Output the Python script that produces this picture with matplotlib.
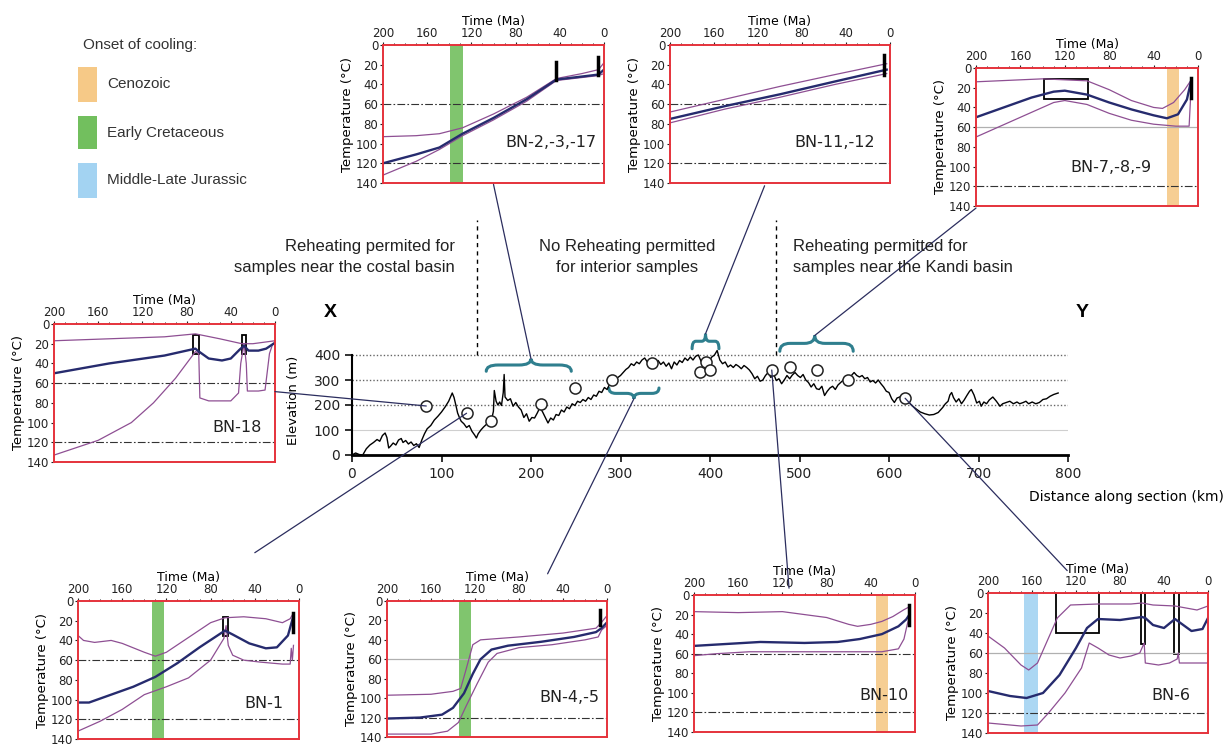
import matplotlib.pyplot as plt
from matplotlib.patches import Rectangle, ConnectionPatch, PathPatch
from matplotlib.path import Path

# ---- elevation profile along X-Y (km, m) ----
dist_km = [0, 4, 8, 12, 16, 20, 24, 28, 31, 34, 37, 39, 41, 43, 46, 49, 52, 55, 57, 60, 63, 66, 69, 72, 75,
           78, 81, 84, 88, 92, 96, 100, 104, 108, 112, 114, 116, 118, 120, 122, 125, 128, 131, 134, 137, 139,
           141, 144, 147, 150, 153, 156, 158, 159, 161, 163, 165, 167, 169, 170, 171, 174, 177, 180, 183, 186,
           189, 192, 195, 198, 201, 204, 207, 210, 213, 216, 219, 222, 225, 228, 231, 234, 237, 240, 243, 246,
           249, 252, 255, 258, 261, 264, 267, 270, 273, 276, 279, 282, 285, 288, 291, 294, 297, 300, 303, 306,
           309, 312, 315, 318, 321, 324, 327, 330, 333, 336, 339, 342, 345, 348, 351, 354, 357, 360, 363, 366,
           369, 372, 375, 378, 381, 384, 387, 390, 393, 396, 399, 402, 405, 408, 411, 414, 417, 420, 423, 426,
           429, 432, 435, 438, 441, 444, 447, 450, 453, 456, 459, 462, 465, 468, 471, 474, 477, 480, 483, 486,
           489, 492, 495, 498, 501, 504, 507, 510, 513, 516, 519, 522, 525, 528, 531, 534, 537, 540, 543, 546,
           549, 552, 555, 558, 561, 564, 567, 570, 573, 576, 579, 582, 585, 588, 591, 594, 597, 600, 603, 606,
           609, 612, 615, 618, 621, 625, 630, 635, 640, 645, 650, 655, 660, 663, 666, 668, 670, 672, 675, 678,
           681, 684, 687, 690, 692, 695, 698, 701, 703, 706, 709, 712, 716, 720, 724, 727, 731, 735, 739, 743,
           746, 750, 753, 756, 760, 764, 768, 772, 776, 780, 784, 789]
elev_m = [0, 8, 2, 0, 25, 40, 50, 62, 55, 78, 88, 70, 28, 35, 48, 40, 60, 66, 50, 58, 44, 52, 38, 45, 30,
          60, 85, 105, 118, 140, 155, 172, 192, 215, 248, 230, 200, 168, 150, 135, 125, 110, 118, 95, 80, 68,
          85, 100, 112, 122, 130, 142, 175, 258, 215, 200, 212, 198, 250, 322, 232, 218, 225, 195, 210, 192,
          180, 150, 165, 135, 150, 148, 168, 190, 172, 150, 128, 148, 140, 162, 158, 180, 172, 192, 185, 205,
          198, 215, 210, 222, 215, 230, 222, 240, 235, 255, 250, 270, 262, 285, 290, 300, 310, 318, 330, 342,
          350, 365, 358, 372, 365, 380, 388, 372, 382, 370, 365, 378, 362, 372, 355, 368, 345, 372, 360, 378,
          370, 388, 378, 392, 380, 395, 400, 375, 360, 385, 375, 392, 400, 418, 380, 365, 372, 352, 360, 350,
          362, 355, 345, 358, 350, 340, 325, 305, 315, 295, 300, 318, 330, 310, 325, 298, 305, 285, 300, 318,
          305, 320, 330, 318, 310, 322, 300, 290, 272, 285, 265, 262, 275, 238, 255, 268, 275, 262, 280, 290,
          300, 312, 305, 318, 330, 318, 312, 318, 305, 310, 292, 298, 288, 300, 285, 272, 255, 250, 225, 210,
          228, 232, 240, 222, 215, 200, 185, 172, 165, 160, 162, 170, 190, 205, 215, 240, 250, 230, 212, 225,
          205, 220, 238, 255, 262, 240, 208, 215, 195, 212, 205, 220, 232, 215, 195, 205, 210, 215, 205, 212,
          205, 210, 215, 205, 212, 205, 210, 222, 225, 235, 242, 248]

# sample locations on the profile
sample_km = [83, 128, 155, 211, 249, 290, 335, 389, 396, 400, 469, 489, 519, 554, 618]
sample_elev = [196, 167, 137, 204, 267, 300, 367, 332, 372, 340, 340, 351, 340, 300, 227]

# ---- thermal histories: (age Ma, temperature C) ----
bn2_upper = [(200, 93), (170, 92), (149, 90), (128, 84), (100, 70), (70, 53), (43, 34), (20, 29), (5, 25), (0, 18)]
bn2_mid = [(200, 120), (170, 111), (149, 104), (128, 90), (100, 74), (70, 55), (43, 35), (20, 32), (5, 30), (0, 25)]
bn2_lower = [(200, 132), (170, 118), (149, 106), (128, 92), (100, 76), (70, 57), (43, 36), (20, 33), (5, 31), (0, 29)]

bn11_upper = [(200, 68), (150, 55), (100, 42), (50, 30), (3, 19)]
bn11_mid = [(200, 75), (150, 62), (100, 50), (50, 37), (3, 25)]
bn11_lower = [(200, 79), (150, 65), (100, 53), (50, 40), (3, 29)]

bn7_upper = [(200, 14), (160, 12), (140, 11), (100, 13), (80, 22), (60, 33), (40, 40), (32, 41), (22, 35), (12, 22), (6, 12)]
bn7_mid = [(200, 50), (170, 38), (150, 30), (130, 24), (120, 23), (100, 27), (80, 35), (60, 42), (40, 48), (28, 51),
           (18, 47), (10, 32), (6, 12)]
bn7_lower = [(200, 70), (170, 55), (150, 45), (130, 35), (120, 33), (100, 37), (80, 46), (60, 53), (40, 57), (20, 59),
             (8, 59), (6, 15)]

bn18_upper = [(200, 17), (150, 15), (100, 13), (72, 10), (50, 15), (30, 20), (20, 20), (0, 17)]
bn18_mid = [(200, 50), (150, 40), (100, 32), (72, 25), (70, 27), (60, 35), (48, 37), (40, 35), (32, 26), (28, 22),
            (24, 27), (15, 27), (8, 25), (0, 19)]
bn18_lower = [(200, 133), (160, 118), (130, 100), (110, 80), (90, 55), (72, 28), (69, 30), (68, 75), (60, 78), (40, 78),
              (33, 70), (31, 40), (28, 20), (26, 40), (25, 68), (15, 68), (9, 67), (5, 30), (2, 20)]

bn1_upper = [(200, 35), (195, 40), (185, 42), (170, 40), (160, 43), (140, 52), (130, 56), (120, 52), (100, 37), (80, 22),
             (67, 17), (50, 16), (30, 18), (15, 22), (8, 18), (5, 12)]
bn1_mid = [(200, 103), (190, 103), (170, 95), (150, 87), (130, 77), (110, 63), (90, 47), (67, 30), (60, 34), (45, 43),
           (30, 48), (20, 47), (10, 35), (5, 15)]
bn1_lower = [(200, 132), (180, 122), (160, 110), (140, 95), (120, 87), (100, 78), (80, 60), (68, 38), (66, 25), (64, 45),
             (60, 55), (50, 60), (35, 62), (15, 64), (8, 64), (7, 48), (6, 60), (5, 45)]

bn4_upper = [(200, 97), (160, 96), (140, 93), (133, 90), (128, 70), (122, 45), (115, 40), (80, 37), (40, 33), (10, 28),
             (5, 22), (0, 15)]
bn4_mid = [(200, 121), (170, 120), (150, 117), (140, 110), (130, 95), (122, 75), (115, 60), (105, 50), (90, 46), (60, 42),
           (30, 37), (10, 32), (5, 28), (0, 22)]
bn4_lower = [(200, 137), (160, 137), (145, 134), (135, 125), (128, 108), (118, 85), (108, 63), (100, 54), (80, 48),
             (50, 45), (20, 40), (8, 37), (5, 30), (0, 25)]

bn10_upper = [(200, 17), (160, 18), (120, 17), (100, 20), (80, 23), (60, 30), (52, 32), (40, 30), (30, 27), (20, 22),
              (10, 15), (5, 12)]
bn10_mid = [(200, 52), (170, 50), (140, 48), (100, 49), (70, 48), (50, 45), (30, 40), (15, 32), (8, 25), (5, 20)]
bn10_lower = [(200, 62), (180, 60), (150, 58), (100, 58), (60, 58), (30, 58), (15, 55), (10, 45), (7, 30), (5, 22)]

bn6_upper = [(200, 43), (185, 55), (170, 72), (163, 77), (155, 70), (145, 45), (137, 25), (125, 12), (100, 11), (70, 11),
             (60, 10), (50, 12), (30, 13), (20, 15), (10, 17), (0, 13)]
bn6_mid = [(200, 98), (180, 103), (165, 105), (150, 100), (135, 82), (120, 55), (110, 35), (100, 26), (80, 27), (60, 24),
           (57, 25), (50, 32), (40, 35), (30, 26), (25, 30), (15, 38), (5, 36), (0, 25)]
bn6_lower = [(200, 130), (170, 133), (155, 132), (145, 120), (130, 100), (115, 75), (108, 50), (100, 55), (90, 62),
             (80, 65), (70, 63), (62, 60), (58, 50), (57, 70), (45, 72), (35, 70), (28, 66), (27, 60), (26, 70),
             (10, 70), (0, 70)]

# constraint boxes (age old, age young, T top, T bottom) and bars (age, T top, T bottom)
bn7_boxes = [(139, 99, 11, 31)]
bn18_boxes = [(74, 69, 11, 30), (30, 26, 11, 30)]
bn1_boxes = [(69, 64, 16, 36)]
bn6_boxes = [(138, 99, 0, 40), (61, 57, 0, 51), (31, 26, 0, 61)]
bn2_bars = [(43, 17, 36), (5, 12, 30)]
bn11_bars = [(5, 10, 30)]
bn7_bars = [(6, 10, 30)]
bn1_bars = [(5, 12, 31)]
bn4_bars = [(6, 9, 25)]
bn10_bars = [(5, 10, 31)]

# onset-of-cooling colours
cenozoic_c, cretaceous_c, jurassic_c = '#f6c987', '#72bf5e', '#a3d3f2'

W, H = 1230, 746
fig = plt.figure(figsize=(12.3, 7.46), dpi=100)
fig.patch.set_facecolor('white')


def px_axes(x0, y0, x1, y1):
    return fig.add_axes([x0 / W, 1 - y1 / H, (x1 - x0) / W, (y1 - y0) / H])


# ---------------- main profile ----------------
ax = px_axes(352, 345, 1068, 455)
ax.set_xlim(0, 800)
ax.set_ylim(0, 440)
ax.patch.set_alpha(0)
for s in ['top', 'right']:
    ax.spines[s].set_visible(False)
ax.spines['left'].set_bounds(0, 400)
ax.spines['bottom'].set_linewidth(2)
ax.spines['left'].set_linewidth(1.5)
ax.set_xticks(range(0, 801, 100))
ax.set_yticks(range(0, 401, 100))
ax.tick_params(labelsize=10, length=5, width=1.3, colors='#222222')
ax.hlines([200, 300, 400], 0, 800, colors='#666666', linestyles=(0, (1, 1.5)), lw=1)
ax.hlines([100], 0, 800, colors='#cfcfcf', lw=0.8)
ax.plot(dist_km, elev_m, color='black', lw=1)
ax.plot(sample_km, sample_elev, 'o', ms=8, mfc='white', mec='#222222', mew=1.1, zorder=5)
ax.set_ylabel('Elevation (m)', fontsize=9.5, labelpad=10)
ax.vlines([140, 474], 400, 940, colors='black', linestyles=(0, (3, 3)), lw=1, clip_on=False)


def brace(x0, x1, y_end, y_tip, xm=None):
    xm = (x0 + x1) / 2 if xm is None else xm
    ym = (y_end + y_tip) / 2
    d = 0.14 * (x1 - x0)
    verts = [(x0, y_end), (x0, ym), (x0 + d, ym), (xm - d, ym), (xm, ym), (xm, y_tip),
             (xm, ym), (xm + d, ym), (x1 - d, ym), (x1, ym), (x1, y_end)]
    codes = [Path.MOVETO, Path.CURVE3, Path.CURVE3, Path.LINETO, Path.CURVE3, Path.CURVE3,
             Path.CURVE3, Path.CURVE3, Path.LINETO, Path.CURVE3, Path.CURVE3]
    ax.add_patch(PathPatch(Path(verts, codes), fill=False, ec='#2f7f8e', lw=2.2,
                           capstyle='round', clip_on=False))


brace(150, 245, 335, 385, 200)
brace(287, 343, 268, 225, 315)
brace(380, 410, 425, 485, 395)
brace(478, 560, 415, 478, 517)

# ---------------- insets ----------------
env_c, mid_c, red_c = '#8e4f93', '#262b6e', '#e5323b'
dashdot = (0, (7, 2, 1.5, 2))


def inset(box, name, name_xy, upper, mid, lower, band=None, boxes=(), bars=(), grey60=False):
    a = px_axes(*box)
    a.set_xlim(200, 0)
    a.set_ylim(140, 0)
    a.xaxis.tick_top()
    a.xaxis.set_label_position('top')
    a.set_xticks([200, 160, 120, 80, 40, 0])
    a.set_xticks(range(0, 201, 10), minor=True)
    a.set_yticks(range(0, 141, 20))
    a.set_xlabel('Time (Ma)', fontsize=9, labelpad=1.5)
    a.set_ylabel('Temperature (°C)', fontsize=9.5, labelpad=1)
    a.tick_params(labelsize=8.5, length=2.5, pad=1, colors='#222222')
    a.tick_params(which='minor', length=1.5)
    for s in a.spines.values():
        s.set_color(red_c)
        s.set_linewidth(1.4)
    if band is not None:
        a.axvspan(band[0], band[1], color=band[2], lw=0, alpha=0.9)
    if grey60:
        a.axhline(60, color='#b0b0b0', lw=0.9)
    else:
        a.axhline(60, color='#333333', lw=0.8, ls=dashdot)
    a.axhline(120, color='#333333', lw=0.8, ls=dashdot)
    a.plot(*zip(*upper), color=env_c, lw=0.9)
    a.plot(*zip(*lower), color=env_c, lw=0.9)
    a.plot(*zip(*mid), color=mid_c, lw=1.7)
    for t0, t1, T0, T1 in boxes:
        a.add_patch(Rectangle((t0, T0), t1 - t0, T1 - T0, fill=False, ec='black', lw=1.3))
    for t, T0, T1 in bars:
        a.plot([t, t], [T0, T1], color='black', lw=2.5)
    a.text(name_xy[0], name_xy[1], name, transform=a.transAxes, fontsize=11.5,
           ha='center', va='center', color='#222222')
    return a


ax2 = inset((383, 45, 604, 183), 'BN-2,-3,-17', (0.76, 0.29), bn2_upper, bn2_mid, bn2_lower,
            band=(139, 128, cretaceous_c), bars=bn2_bars)
ax11 = inset((670, 45, 890, 183), 'BN-11,-12', (0.75, 0.29), bn11_upper, bn11_mid, bn11_lower,
             bars=bn11_bars)
ax7 = inset((976, 68, 1198, 206), 'BN-7,-8,-9', (0.61, 0.28), bn7_upper, bn7_mid, bn7_lower,
            band=(28, 17, cenozoic_c), boxes=bn7_boxes, bars=bn7_bars, grey60=True)
ax18 = inset((54, 324, 275, 462), 'BN-18', (0.83, 0.25), bn18_upper, bn18_mid, bn18_lower,
             boxes=bn18_boxes)
ax1 = inset((78, 601, 299, 739), 'BN-1', (0.84, 0.26), bn1_upper, bn1_mid, bn1_lower,
            band=(133, 122, cretaceous_c), boxes=bn1_boxes, bars=bn1_bars)
ax4 = inset((387, 601, 607, 737), 'BN-4,-5', (0.83, 0.29), bn4_upper, bn4_mid, bn4_lower,
            band=(135, 124, cretaceous_c), bars=bn4_bars, grey60=True)
ax10 = inset((694, 595, 915, 732), 'BN-10', (0.86, 0.27), bn10_upper, bn10_mid, bn10_lower,
             band=(35, 24, cenozoic_c), bars=bn10_bars)
ax6 = inset((988, 593, 1208, 733), 'BN-6', (0.83, 0.27), bn6_upper, bn6_mid, bn6_lower,
            band=(167, 155, jurassic_c), boxes=bn6_boxes, grey60=True)

# connectors: inset anchor (axes fraction) -> point on profile (km, m)
links = [(ax18, (1.0, 0.51), (83, 196)),
         (ax1, (0.80, 1.35), (128, 167)),
         (ax2, (0.50, -0.01), (200, 385)),
         (ax11, (0.43, -0.02), (395, 485)),
         (ax7, (0.0, -0.015), (517, 478)),
         (ax4, (0.73, 1.20), (315, 225)),
         (ax10, (0.43, 1.05), (469, 340)),
         (ax6, (0.36, 1.16), (618, 227))]
for a, frac, pt in links:
    fig.add_artist(ConnectionPatch(xyA=frac, coordsA=a.transAxes, xyB=pt, coordsB=ax.transData,
                                   color='#2b2d5e', lw=0.9))

# ---------------- annotations ----------------
narrow = ['Liberation Sans Narrow', 'Liberation Sans', 'DejaVu Sans']
fig.text(455 / W, 1 - 257 / H, 'Reheating permited for\nsamples near the costal basin', ha='right',
         va='center', fontsize=12, family=narrow, linespacing=1.5, color='#222222')
fig.text(627 / W, 1 - 257 / H, 'No Reheating permitted\nfor interior samples', ha='center',
         va='center', fontsize=12, family=narrow, linespacing=1.5, color='#222222')
fig.text(793 / W, 1 - 257 / H, 'Reheating permitted for\nsamples near the Kandi basin', ha='left',
         va='center', fontsize=12, family=narrow, linespacing=1.5, color='#222222')
fig.text(330 / W, 1 - 313 / H, 'X', fontsize=14, weight='bold', ha='center', va='center',
         family='Liberation Sans')
fig.text(1082 / W, 1 - 313 / H, 'Y', fontsize=14, weight='bold', ha='center', va='center',
         family='Liberation Sans')
fig.text(1224 / W, 1 - 497 / H, 'Distance along section (km)', ha='right', va='center', fontsize=10)

# legend
fig.text(83 / W, 1 - 45 / H, 'Onset of cooling:', fontsize=11, family='Liberation Sans',
         va='center', color='#333333')
for (y0, y1), lab, c in zip([(67, 102), (116, 149), (163, 198)],
                            ['Cenozoic', 'Early Cretaceous', 'Middle-Late Jurassic'],
                            [cenozoic_c, cretaceous_c, jurassic_c]):
    fig.add_artist(Rectangle((78 / W, 1 - y1 / H), 19 / W, (y1 - y0) / H, transform=fig.transFigure,
                             color=c, lw=0))
    fig.text(107 / W, 1 - (y0 + y1) / 2 / H, lab, fontsize=11, family='Liberation Sans',
             va='center', color='#333333')

fig.savefig('out.png', dpi=100)
